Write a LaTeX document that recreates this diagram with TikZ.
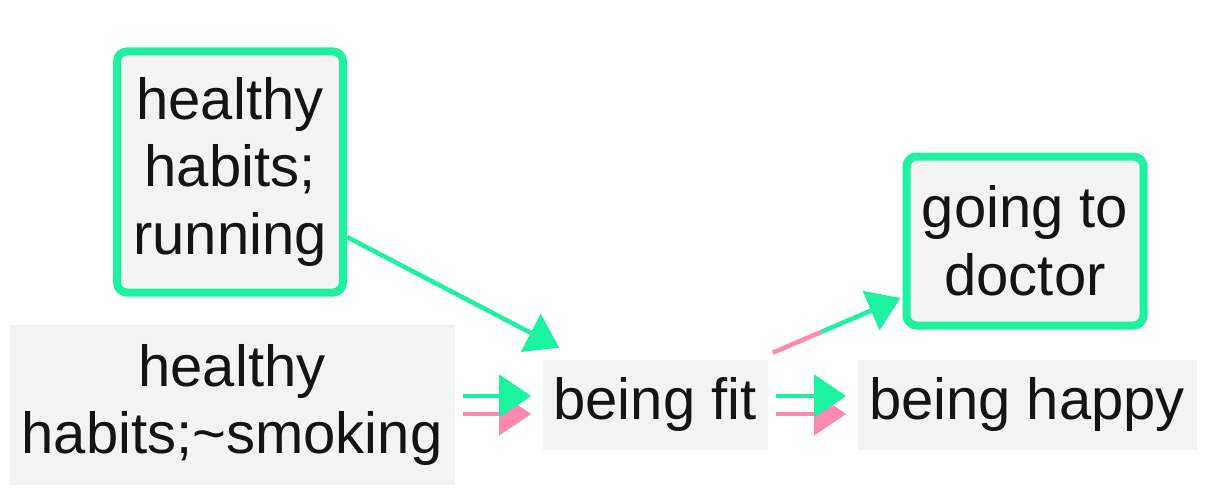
\documentclass[tikz,border=0pt]{standalone}
\usepackage{fontspec}
\setmainfont{Liberation Sans}
\usetikzlibrary{arrows.meta,positioning}

\definecolor{mint}{RGB}{28,242,160}
\definecolor{rose}{RGB}{255,136,178}
\definecolor{boxgrey}{RGB}{243,243,243}
\definecolor{ink}{RGB}{20,20,20}

\begin{document}
\begin{tikzpicture}
		[
			align=center,
			font=\fontsize{33}{38.5}\selectfont,
			factor/.style={fill=boxgrey,draw=none,text=ink,inner sep=0pt},
			keyfactor/.style={factor,draw=mint,line width=0.16cm,rounded corners=0.2cm},
			arrow/.style={-{Triangle[length=0.64cm,width=0.84cm]}, line width=0.09cm},
			poslink/.style={arrow,mint},
			neglink/.style={arrow,rose}
		]

		\useasboundingbox (0,0) rectangle (24.44,9.92);

		% factors
		\node[keyfactor,minimum width=4.52cm,minimum height=4.82cm] (run) at (  4.60,  6.48 ) {healthy\\habits;\\running};
		\node[factor,minimum width=8.90cm,minimum height=3.20cm] (smoke) at (  4.64,  1.82 ) {healthy\\habits;\textasciitilde smoking};
		\node[factor,minimum width=4.50cm,minimum height=1.80cm] (fit) at ( 13.10,  1.82 ) {being fit};
		\node[factor,minimum width=6.78cm,minimum height=1.80cm] (happy) at ( 20.54,  1.82 ) {being happy};
		\node[keyfactor,minimum width=4.74cm,minimum height=3.38cm] (doc) at ( 20.50,  5.10 ) {going to\\doctor};

		% end points of the slanted links
		\coordinate (runout) at ([yshift=-1.30cm]run.east);
		\coordinate (fitin) at ([shift={(0.34cm,0.24cm)}]fit.north west);
		\coordinate (fitout) at ([shift={(0.10cm,0.14cm)}]fit.north east);
		\coordinate (docin) at ([shift={(-0.04cm,-1.14cm)}]doc.west);
		\path (fitout) -- (docin) coordinate[pos=0.38] (split);

		% slanted links
		\draw[poslink] (runout) -- (fitin);
		\draw[rose,line width=0.09cm] (fitout) -- (split);
		\draw[poslink] (split) -- (docin);

		% double links, pink below green
		\foreach \from/\to in {smoke/fit,fit/happy}
		{
			\draw[neglink,shorten <=0.16cm,shorten >=0.22cm] ([yshift=-0.18cm]\from.east) -- ([yshift=-0.18cm]\to.west);
			\draw[poslink,shorten <=0.16cm,shorten >=0.22cm] ([yshift=0.18cm]\from.east) -- ([yshift=0.18cm]\to.west);
		}

	\end{tikzpicture}
\end{document}
